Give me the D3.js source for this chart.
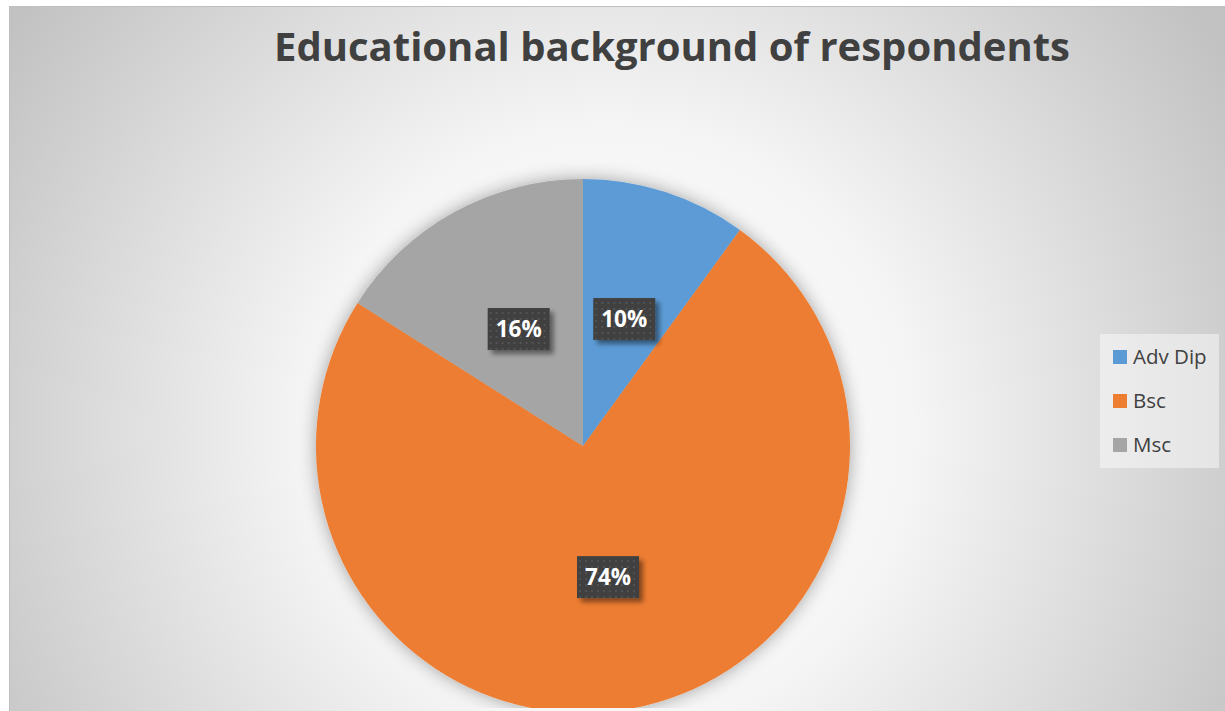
<!DOCTYPE html>
<html>
<head>
<meta charset="utf-8">
<script src="https://cdn.jsdelivr.net/npm/d3@7"></script>
<style>
  html, body { margin: 0; padding: 0; background: #fff; }
  svg { display: block; }
</style>
</head>
<body>
<div id="graf"></div>
<script>
// Datos
categorias = ['Adv Dip', 'Bsc', 'Msc']
valores = [10, 74, 16]
colores = ['#5b9bd5', '#ed7d31', '#a5a5a5']
titulo = 'Educational background of respondents'

ancho_total = 1225
alto_total = 711

svg = d3.select('#graf').append('svg')
        .attr('width', ancho_total)
        .attr('height', alto_total)

defs = svg.append('defs')

// fondo radial
grad = defs.append('radialGradient')
           .attr('id', 'fondo')
           .attr('gradientUnits', 'userSpaceOnUse')
           .attr('cx', 610).attr('cy', 430).attr('r', 720)
grad.append('stop').attr('offset', '0%').attr('stop-color', '#ffffff')
grad.append('stop').attr('offset', '42%').attr('stop-color', '#f5f5f5')
grad.append('stop').attr('offset', '100%').attr('stop-color', '#c2c2c2')

// sombra del pastel
sombra = defs.append('filter').attr('id', 'sombra')
             .attr('x', '-20%').attr('y', '-20%').attr('width', '140%').attr('height', '140%')
sombra.append('feGaussianBlur').attr('in', 'SourceAlpha').attr('stdDeviation', 9).attr('result', 'b')
sombra.append('feComponentTransfer').attr('in', 'b').attr('result', 'c')
      .append('feFuncA').attr('type', 'linear').attr('slope', 0.35)
m = sombra.append('feMerge')
m.append('feMergeNode').attr('in', 'c')
m.append('feMergeNode').attr('in', 'SourceGraphic')

// sombra de etiquetas
sombraEt = defs.append('filter').attr('id', 'sombraEt')
               .attr('x', '-30%').attr('y', '-30%').attr('width', '170%').attr('height', '180%')
sombraEt.append('feGaussianBlur').attr('in', 'SourceAlpha').attr('stdDeviation', 2.5).attr('result', 'b')
sombraEt.append('feOffset').attr('in', 'b').attr('dx', 4).attr('dy', 4).attr('result', 'o')
sombraEt.append('feComponentTransfer').attr('in', 'o').attr('result', 'c')
        .append('feFuncA').attr('type', 'linear').attr('slope', 0.45)
m2 = sombraEt.append('feMerge')
m2.append('feMergeNode').attr('in', 'c')
m2.append('feMergeNode').attr('in', 'SourceGraphic')

// patron de puntos
patron = defs.append('pattern').attr('id', 'puntos')
             .attr('patternUnits', 'userSpaceOnUse')
             .attr('width', 6).attr('height', 6)
patron.append('rect').attr('width', 6).attr('height', 6).attr('fill', '#404040')
patron.append('rect').attr('x', 1).attr('y', 1).attr('width', 2).attr('height', 2).attr('fill', '#525252')

// area del grafico
svg.append('rect')
   .attr('x', 9.5).attr('y', 6.5)
   .attr('width', ancho_total).attr('height', alto_total)
   .attr('fill', 'url(#fondo)')
   .attr('stroke', '#bfbfbf')

svg.append('text')
   .attr('x', 672).attr('y', 61)
   .attr('text-anchor', 'middle')
   .style('font-family', '"Open Sans", sans-serif')
   .style('font-weight', 'bold')
   .style('font-size', '40px')
   .style('fill', '#404040')
   .text(titulo)

// pastel
radio = 267
cx = 583
cy = 446

pie = d3.pie().sort(null).value(d => d)
arco = d3.arc().innerRadius(0).outerRadius(radio)
arcoEt = d3.arc().innerRadius(0).outerRadius(radio)

clip = defs.append('clipPath').attr('id', 'recorte')
clip.append('rect').attr('x', 0).attr('y', 0).attr('width', ancho_total).attr('height', 708)

gPie = svg.append('g')
          .attr('clip-path', 'url(#recorte)')
          .append('g')
          .attr('transform', `translate(${cx}, ${cy})`)
          .attr('filter', 'url(#sombra)')

datos = pie(valores)

gPie.selectAll('path')
    .data(datos)
    .enter()
    .append('path')
    .attr('d', arco)
    .attr('fill', (d, i) => colores[i])

// etiquetas
gEt = svg.append('g').attr('transform', `translate(${cx}, ${cy})`)
etiquetas = gEt.selectAll('g.et')
               .data(datos)
               .enter()
               .append('g')
               .attr('class', 'et')
               .attr('transform', d => `translate(${arcoEt.centroid(d)})`)

etiquetas.append('rect')
         .attr('x', -31).attr('y', -21)
         .attr('width', 62).attr('height', 42)
         .attr('fill', 'url(#puntos)')
         .attr('filter', 'url(#sombraEt)')

etiquetas.append('text')
         .attr('text-anchor', 'middle')
         .attr('dy', '0.36em')
         .style('font-family', '"Open Sans", sans-serif')
         .style('font-weight', 'bold')
         .style('font-size', '22.5px')
         .style('fill', '#ffffff')
         .text(d => d.data + '%')

// leyenda
leyenda = svg.append('g').attr('transform', 'translate(1100, 334)')
leyenda.append('rect')
       .attr('width', 119).attr('height', 134)
       .attr('fill', '#ffffff').attr('fill-opacity', 0.45)

yLeyenda = d3.scalePoint().domain(categorias).range([23, 111])

items = leyenda.selectAll('g.item')
               .data(categorias)
               .enter()
               .append('g')
               .attr('class', 'item')
               .attr('transform', d => `translate(13, ${yLeyenda(d)})`)

items.append('rect')
     .attr('x', 0).attr('y', -7)
     .attr('width', 14).attr('height', 14)
     .attr('fill', (d, i) => colores[i])

items.append('text')
     .attr('x', 20).attr('dy', '0.36em')
     .style('font-family', '"Open Sans", sans-serif')
     .style('font-size', '20.5px')
     .style('fill', '#404040')
     .text(d => d)
</script>
</body>
</html>
